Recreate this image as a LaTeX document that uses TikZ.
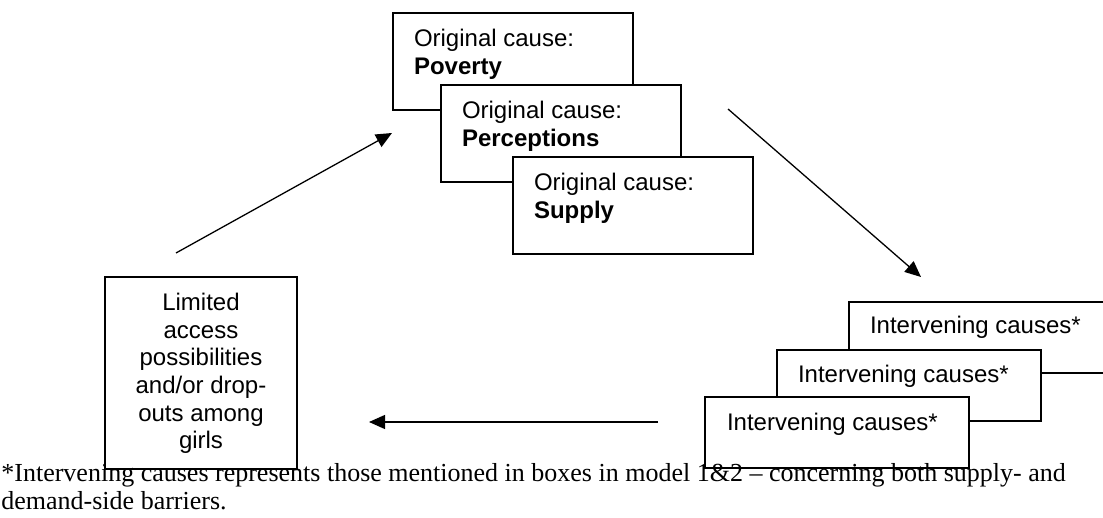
\documentclass[tikz,border=0pt]{standalone}
\usepackage{fontspec}
\setmainfont{Liberation Serif}
\newfontfamily\boxfont{Liberation Sans}
\usetikzlibrary{arrows.meta}
\tikzset{
  box/.style={draw, line width=0.75pt, fill=white, anchor=north west, inner sep=0pt, outer sep=0pt},
  topbox/.style={box, minimum width=120pt, minimum height=48.5pt},
  rightbox/.style={box, minimum width=132pt, minimum height=35.5pt},
  leftbox/.style={box, minimum width=96pt, minimum height=96pt},
  lbl/.style={inner sep=0pt, outer sep=0pt, anchor=base west, font=\boxfont\fontsize{12}{13.75}\selectfont},
  flow/.style={line width=0.65pt, -{Triangle[length=8pt, width=7pt]}}
}
\begin{document}
\begin{tikzpicture}[x=0.5pt, y=-0.5pt]
\useasboundingbox (0,0) rectangle (1103,518);
% top boxes
\node[topbox] (b1) at (393,13) {};
\node[lbl] (t1) at (414,47) {\parbox[t]{110pt}{Original cause:\\\textbf{Poverty}}};
\node[topbox] (b2) at (441,85) {};
\node[lbl] (t2) at (462,119) {\parbox[t]{110pt}{Original cause:\\\textbf{Perceptions}}};
\node[topbox] (b3) at (513,157) {};
\node[lbl] (t3) at (534,191) {\parbox[t]{110pt}{Original cause:\\\textbf{Supply}}};
% right boxes
\node[rightbox] (ba) at (849,302) {};
\node[lbl] (ta) at (870,334) {Intervening causes*};
\node[rightbox] (bb) at (777,350) {};
\node[lbl] (tb) at (798,382) {Intervening causes*};
\node[rightbox] (bc) at (705,397) {};
\node[lbl] (tc) at (727,430) {Intervening causes*};
% left box
\node[leftbox] (bl) at (105,277) {};
\node[lbl, anchor=base] (tl) at (201,311) {\parbox[t]{94pt}{\centering Limited\\access\\possibilities\\and/or drop-\\outs among\\girls}};
% arrows
\coordinate (a1s) at (176,253);
\coordinate (a1e) at (392,133);
\coordinate (a2s) at (728,109);
\coordinate (a2e) at (921,277);
\coordinate (a3s) at (658,422);
\coordinate (a3e) at (369,422);
\draw[flow] (a1s) -- (a1e);
\draw[flow] (a2s) -- (a2e);
\draw[flow] (a3s) -- (a3e);
% footnote
\node[inner sep=0pt, anchor=base west] (fn) at (1,481) {\parbox[t]{580pt}{\fontsize{13}{14}\selectfont *Intervening causes represents those mentioned in boxes in model 1\&2 -- concerning both supply- and\\demand-side barriers.}};
\end{tikzpicture}
\end{document}
